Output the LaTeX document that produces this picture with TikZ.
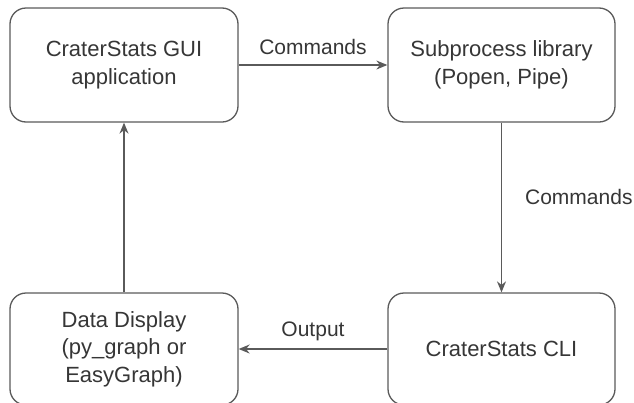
\documentclass[tikz,border=0pt]{standalone}
\usepackage{fontspec}
\setmainfont{Liberation Sans}
\usetikzlibrary{arrows.meta}
\definecolor{strokegray}{HTML}{5A5A5A}
\definecolor{textgray}{HTML}{363636}
\begin{document}
\begin{tikzpicture}[x=1pt,y=-1pt,
  box/.style={draw=strokegray, line width=1.3pt, rounded corners=16pt, fill=white,
    minimum width=228pt, minimum height=114pt, align=center, text=textgray,
    font=\fontsize{22}{27.5}\selectfont, inner sep=0pt},
  lbl/.style={text=textgray, font=\fontsize{21}{25}\selectfont, inner sep=0pt},
  conn/.style={draw=strokegray, line width=1.3pt, -{Stealth[length=11pt,width=9pt]}}]
\useasboundingbox (0,0) rectangle (634,402);
\node[box] (gui) at (124,65) {CraterStats GUI\\application};
\node[box, minimum width=227pt] (sub) at (501.5,65) {Subprocess library\\(Popen, Pipe)};
\node[box, minimum width=227pt, minimum height=112pt] (cli) at (501.5,349) {CraterStats CLI};
\node[box, minimum height=112pt] (disp) at (124,349) {Data Display\\(py\_graph or\\EasyGraph)};
\draw[conn] (gui.east) -- node[lbl, midway, yshift=18pt] (l1) {Commands} (sub.west);
\draw[conn] (sub.south) -- node[lbl, midway, anchor=west, xshift=23pt, yshift=11pt] (l2) {Commands} (cli.north);
\draw[conn] (cli.west) -- node[lbl, midway, yshift=18pt] (l3) {Output} (disp.east);
\draw[conn] (disp.north) -- (gui.south);
\end{tikzpicture}
\end{document}
